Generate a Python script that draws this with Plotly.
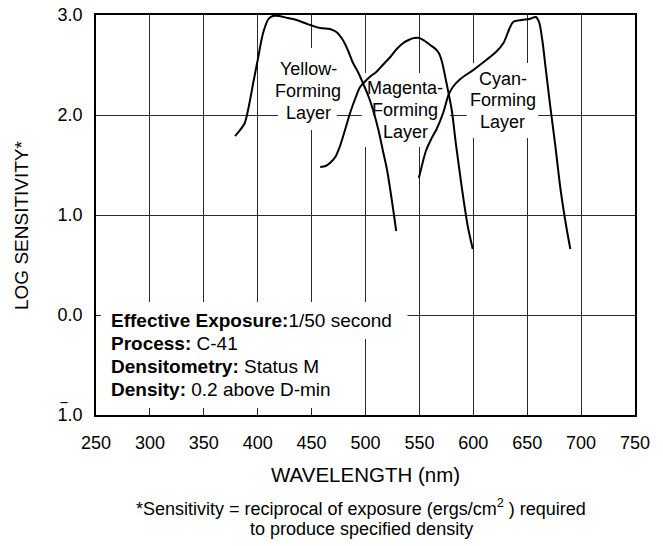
import plotly.graph_objects as go

# ---- data ----
yellow_nm = [379, 383, 388, 392, 396, 400, 405, 410, 414, 420, 428, 436, 446, 458, 467, 473, 479, 484, 488, 493, 498, 503, 507, 512, 516, 520, 523, 526, 528.5]
yellow_ls = [1.79, 1.84, 1.92, 2.10, 2.33, 2.55, 2.82, 2.96, 2.99, 2.99, 2.97, 2.95, 2.91, 2.87, 2.86, 2.83, 2.75, 2.64, 2.53, 2.43, 2.31, 2.18, 2.05, 1.85, 1.65, 1.45, 1.25, 1.03, 0.84]

magenta_nm = [458, 463, 467, 472, 476, 481, 486, 491, 495, 500, 505, 510, 516, 523, 529, 535, 540, 545, 550, 555, 560, 565, 568, 571, 574, 577, 580, 584, 588, 591, 595, 599.5]
magenta_ls = [1.48, 1.49, 1.52, 1.58, 1.68, 1.85, 2.03, 2.18, 2.28, 2.34, 2.39, 2.43, 2.50, 2.58, 2.66, 2.72, 2.75, 2.77, 2.77, 2.74, 2.70, 2.66, 2.62, 2.53, 2.38, 2.22, 2.05, 1.70, 1.38, 1.15, 0.88, 0.66]

cyan_nm = [549.5, 552, 556, 561, 566, 572, 577, 581, 588, 600, 612, 621, 628, 633, 637, 645, 652, 658, 661, 664, 667, 671, 676, 681, 686, 690]
cyan_ls = [1.37, 1.48, 1.64, 1.76, 1.86, 2.02, 2.20, 2.28, 2.36, 2.45, 2.55, 2.63, 2.72, 2.85, 2.93, 2.95, 2.96, 2.98, 2.93, 2.75, 2.48, 2.12, 1.70, 1.25, 0.90, 0.66]

x_ticks = [250, 300, 350, 400, 450, 500, 550, 600, 650, 700, 750]
y_ticks = [-1, 0, 1, 2, 3]
y_ticktext = ["1.0", "0.0", "1.0", "2.0", "3.0"]   # bottom one carries a bar (negative characteristic)

curve_labels = [
    # (x nm, [line y values], [lines])
    (447, [2.465, 2.24, 2.025], ["Yellow-", "Forming", "Layer"]),
    (537, [2.27, 2.05, 1.83], ["Magenta-", "Forming", "Layer"]),
    (627.5, [2.36, 2.15, 1.93], ["Cyan-", "Forming", "Layer"]),
]
label_boxes = [
    # x0, x1, y0, y1 (white backgrounds hiding the grid)
    (418.8, 473.5, 1.85, 2.67),
    (496.5, 578.4, 1.68, 2.42),
    (593.8, 660.2, 1.77, 2.52),
]

info_lines = ["<b>Effective Exposure:</b>1/50 second",
              "<b>Process:</b> C-41",
              "<b>Densitometry:</b> Status M",
              "<b>Density:</b> 0.2 above D-min"]
info_y = [-0.05, -0.28, -0.51, -0.74]
info_boxes = [(254.6, 539, -0.24, 0.13), (254.6, 476, -0.93, -0.24)]

FONT = "Liberation Sans, Arial, sans-serif"

fig = go.Figure()
for xs, ys in [(yellow_nm, yellow_ls), (magenta_nm, magenta_ls), (cyan_nm, cyan_ls)]:
    fig.add_trace(go.Scatter(x=xs, y=ys, mode="lines",
                             line=dict(color="black", width=2, shape="spline", smoothing=0.8),
                             showlegend=False, hoverinfo="skip"))

shapes = []
for x0, x1, y0, y1 in label_boxes + info_boxes:
    shapes.append(dict(type="rect", xref="x", yref="y", x0=x0, x1=x1, y0=y0, y1=y1,
                       fillcolor="white", line=dict(width=0), layer="between"))

ann = []
for xc, ys, lines in curve_labels:
    for yv, t in zip(ys, lines):
        ann.append(dict(x=xc, y=yv, xref="x", yref="y", text=t, showarrow=False,
                        xanchor="center", yanchor="middle", font=dict(size=18)))
for yv, t in zip(info_y, info_lines):
    ann.append(dict(x=262, y=yv, xref="x", yref="y", text=t, showarrow=False,
                    xanchor="left", yanchor="middle", font=dict(size=19)))

# bar over the "1" of the bottom tick label
ann.append(dict(x=0, y=y_ticks[0], xref="paper", yref="y", xshift=-32, yshift=4,
                text="\u203e", showarrow=False, xanchor="center", yanchor="middle",
                font=dict(size=18)))

# axis titles and footnote
ann.append(dict(x=0.5, y=0, xref="paper", yref="paper", yshift=-59, text="WAVELENGTH (nm)",
                showarrow=False, xanchor="center", yanchor="middle", font=dict(size=20.5)))
ann.append(dict(x=0, y=0.9, xref="paper", yref="y", xshift=-75, text="LOG SENSITIVITY*",
                textangle=-90, showarrow=False, xanchor="center", yanchor="middle", font=dict(size=19)))
ann.append(dict(x=0.4917, y=0, xref="paper", yref="paper", yshift=-92,
                text="*Sensitivity = reciprocal of exposure (ergs/cm<sup>2</sup> ) required",
                showarrow=False, xanchor="center", yanchor="middle", font=dict(size=18)))
ann.append(dict(x=0.4917, y=0, xref="paper", yref="paper", yshift=-114,
                text="to produce specified density",
                showarrow=False, xanchor="center", yanchor="middle", font=dict(size=18)))

# page body has an 8px margin: shrink the figure so the plot lands where the reference has it
fig.update_layout(
    width=655, height=538,
    margin=dict(l=88, r=28, t=7, b=131, autoexpand=False),
    paper_bgcolor="white", plot_bgcolor="white",
    font=dict(family=FONT, size=18, color="black"),
    shapes=shapes, annotations=ann,
    xaxis=dict(range=[250, 750], tickvals=x_ticks, showgrid=True, gridcolor="#2a2a2a", gridwidth=1,
               zeroline=False, showline=True, linecolor="black", linewidth=1.5, mirror=True,
               ticks="outside", ticklen=11, tickcolor="rgba(0,0,0,0)", automargin=False,
               ticklabeloverflow="allow", tickfont=dict(size=18)),
    yaxis=dict(range=[-1, 3], tickvals=y_ticks, ticktext=y_ticktext, showgrid=True,
               gridcolor="#2a2a2a", gridwidth=1, zeroline=False, showline=True,
               linecolor="black", linewidth=1.5, mirror=True, automargin=False,
               ticks="outside", ticklen=8, tickcolor="rgba(0,0,0,0)",
               ticklabeloverflow="allow", tickfont=dict(size=18)),
)

fig.write_html("out.html")
